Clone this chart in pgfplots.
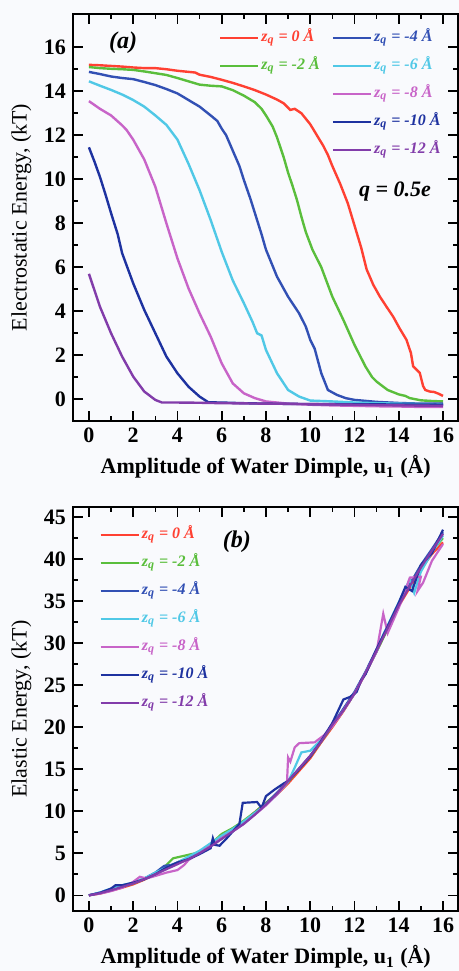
\documentclass[border=0pt]{standalone}
\usepackage{pgfplots}
\pgfplotsset{compat=1.18}
\usepackage{fontspec}
\setmainfont{Liberation Serif}
\definecolor{bgc}{RGB}{249,250,253}
\definecolor{zred}{RGB}{255,64,50}
\definecolor{zgreen}{RGB}{90,190,60}
\definecolor{zblue}{RGB}{50,80,180}
\definecolor{zcyan}{RGB}{80,200,230}
\definecolor{zpink}{RGB}{200,100,200}
\definecolor{zdblue}{RGB}{30,50,160}
\definecolor{zpurple}{RGB}{130,60,170}
\newcommand{\zq}[2]{\textcolor{#1}{\textit{z}\textsubscript{\textit{q}} = #2 Å}}
\pgfplotsset{
  commonax/.style={
    scale only axis,
    width=192.75pt,
    xmin=-0.72, xmax=16.7,
    xtick={0,2,...,16}, minor x tick num=1,
    minor y tick num=1,
    tick align=inside,
    major tick length=5pt, minor tick length=2.5pt,
    every tick/.style={line width=0.8pt, black},
    axis line style={line width=1pt},
    tick label style={font=\fontsize{11}{13}\selectfont\bfseries},
    /pgf/number format/assume math mode=true,
    label style={font=\fontsize{11}{13}\selectfont},
    xlabel={\textbf{Amplitude of Water Dimple, u\textsubscript{1} (Å)}},
    legend cell align=left,
    legend style={draw=none, fill=none, font=\fontsize{8}{9}\selectfont\bfseries\itshape,
      nodes={inner sep=1pt, text height=6pt, text depth=2.5pt}, row sep=3.5pt},
    legend image code/.code={\draw[#1, line width=1.2pt] (0pt,0pt) -- (19pt,0pt);},
  }
}
\begin{document}
\begin{tikzpicture}
\path[use as bounding box, fill=bgc] (-36.5pt,7pt) rectangle (193pt,-478.5pt);
% ---------------- (a)
\begin{axis}[commonax,
  at={(0pt,0pt)}, anchor=north west,
  height=203.5pt,
  ymin=-0.99, ymax=17.51,
  ytick={0,2,...,16},
  ylabel={Electrostatic Energy, (kT)},
  ylabel style={at={(axis description cs:-0.134,0.5)}, anchor=center},
  xlabel style={at={(axis description cs:0.5,-0.113)}, anchor=center},
  legend columns=2,
  legend style={at={(axis description cs:0.362,0.978)}, anchor=north west,
    /tikz/every even column/.append style={column sep=5pt}},
]
\addplot[zred, line width=1.2pt, forget plot] coordinates {(0,15.2) (0.5,15.18) (1,15.15) (1.5,15.12) (2,15.08) (2.5,15.05) (3,15.05) (3.5,15.0) (4,14.93) (4.5,14.88) (4.8,14.85) (5,14.75) (5.5,14.65) (6,14.52) (6.5,14.38) (7,14.22) (7.5,14.05) (8,13.85) (8.5,13.62) (8.8,13.45) (9.0,13.25) (9.1,13.15) (9.3,13.2) (9.6,13.0) (10,12.5) (10.3,12.0) (10.6,11.5) (10.8,11.1) (11,10.6) (11.35,9.8) (11.7,8.9) (12,7.9) (12.3,6.9) (12.55,5.9) (12.85,5.2) (13.15,4.66) (13.45,4.2) (13.75,3.75) (14.05,3.2) (14.35,2.7) (14.55,2.1) (14.65,1.5) (14.8,1.35) (14.95,1.2) (15.1,0.6) (15.2,0.42) (15.4,0.35) (15.6,0.33) (15.8,0.25) (16,0.15)};
\addplot[zgreen, line width=1.2pt, forget plot] coordinates {(0,15.1) (0.5,15.05) (1,15.02) (1.5,15.0) (2,14.97) (2.5,14.9) (3,14.82) (3.5,14.74) (4,14.6) (4.5,14.45) (5,14.3) (5.5,14.25) (6,14.22) (6.5,14.05) (7,13.8) (7.5,13.5) (7.8,13.2) (8,12.9) (8.3,12.4) (8.5,11.9) (8.8,11.0) (9,10.3) (9.2,9.7) (9.4,9.06) (9.6,8.3) (9.8,7.6) (10.1,6.8) (10.5,6.0) (11,4.66) (11.5,3.6) (12,2.47) (12.5,1.48) (12.8,1.0) (13,0.8) (13.5,0.42) (14,0.22) (14.3,0.15) (14.5,0.05) (15,-0.05) (15.5,-0.08) (16,-0.1)};
\addplot[zblue, line width=1.2pt, forget plot] coordinates {(0,14.88) (0.5,14.78) (1,14.67) (1.5,14.6) (2,14.55) (2.5,14.42) (3,14.28) (3.5,14.1) (4,13.9) (4.5,13.6) (5,13.3) (5.5,12.9) (5.8,12.65) (6,12.3) (6.2,12.0) (6.5,11.3) (6.8,10.6) (7,9.97) (7.3,9.1) (7.5,8.46) (7.8,7.5) (8,6.8) (8.5,5.57) (9,4.66) (9.5,3.9) (9.8,3.3) (10,2.7) (10.2,2.3) (10.5,1.18) (10.8,0.42) (11.2,0.2) (11.6,0.05) (12,-0.03) (13,-0.12) (14,-0.17) (15,-0.2) (16,-0.2)};
\addplot[zcyan, line width=1.2pt, forget plot] coordinates {(0,14.45) (0.5,14.25) (1,14.06) (1.5,13.85) (2,13.6) (2.5,13.3) (3,12.9) (3.5,12.47) (4,11.8) (4.5,10.7) (5,9.5) (5.5,8.15) (6,6.7) (6.5,5.4) (7,4.37) (7.4,3.5) (7.6,3.0) (7.8,2.9) (8,2.24) (8.5,1.18) (9,0.42) (9.5,0.12) (10,-0.06) (11,-0.1) (12,-0.15) (13,-0.18) (14,-0.2) (15,-0.22) (16,-0.25)};
\addplot[zpink, line width=1.2pt, forget plot] coordinates {(0,13.55) (0.5,13.2) (1,12.9) (1.5,12.45) (1.7,12.24) (2,11.8) (2.5,10.9) (3,9.66) (3.5,8.0) (4,6.4) (4.5,5.04) (5,3.9) (5.5,2.85) (6,1.63) (6.5,0.72) (7,0.27) (7.5,0.05) (8,-0.1) (9,-0.2) (10,-0.25) (11,-0.28) (12,-0.3) (13,-0.32) (14,-0.33) (15,-0.35) (16,-0.35)};
\addplot[zdblue, line width=1.2pt, forget plot] coordinates {(0,11.45) (0.25,10.8) (0.5,10.1) (0.75,9.3) (1,8.46) (1.3,7.5) (1.5,6.64) (2,5.27) (2.5,4.06) (3,3.0) (3.5,1.94) (4,1.18) (4.5,0.57) (5,0.12) (5.4,-0.14) (6,-0.15) (7,-0.18) (8,-0.2) (10,-0.22) (12,-0.23) (14,-0.24) (16,-0.25)};
\addplot[zpurple, line width=1.2pt, forget plot] coordinates {(0,5.7) (0.1,5.4) (0.5,4.2) (1,3.0) (1.5,1.94) (2,1.03) (2.5,0.35) (3,-0.03) (3.3,-0.15) (4,-0.15) (5,-0.16) (6,-0.18) (8,-0.2) (10,-0.22) (12,-0.25) (14,-0.28) (16,-0.3)};
\addlegendimage{zred}\addlegendentry{\zq{zred}{0}}
\addlegendimage{zblue}\addlegendentry{\zq{zblue}{-4}}
\addlegendimage{zgreen}\addlegendentry{\zq{zgreen}{-2}}
\addlegendimage{zcyan}\addlegendentry{\zq{zcyan}{-6}}
\addlegendimage{empty legend}\addlegendentry{}
\addlegendimage{zpink}\addlegendentry{\zq{zpink}{-8}}
\addlegendimage{empty legend}\addlegendentry{}
\addlegendimage{zdblue}\addlegendentry{\zq{zdblue}{-10}}
\addlegendimage{empty legend}\addlegendentry{}
\addlegendimage{zpurple}\addlegendentry{\zq{zpurple}{-12}}
\node[font=\fontsize{12}{14}\selectfont\bfseries\itshape] at (axis cs:1.54,16.2) {(a)};
\node[font=\fontsize{11}{13}\selectfont\bfseries\itshape] at (axis cs:13.83,9.45) {q = 0.5e};
\end{axis}
% ---------------- (b)
\begin{axis}[commonax,
  at={(0pt,-246.5pt)}, anchor=north west,
  height=202pt,
  ymin=-1.87, ymax=46.2,
  ytick={0,5,...,45},
  ylabel={Elastic Energy, (kT)},
  ylabel style={at={(axis description cs:-0.134,0.5)}, anchor=center},
  xlabel style={at={(axis description cs:0.5,-0.114)}, anchor=center},
  legend style={at={(axis description cs:0.052,0.968)}, anchor=north west},
]
\addplot[zred, line width=1.1pt] coordinates {(0,0) (0.5,0.2) (1,0.55) (1.5,0.9) (2,1.3) (2.5,1.85) (3,2.6) (3.5,3.2) (4,3.9) (4.5,4.5) (5,5.2) (5.5,6.0) (6,7.0) (6.5,7.9) (7,8.8) (7.5,9.9) (8,11.0) (8.5,12.0) (9,13.3) (9.5,14.8) (10,16.3) (10.5,18.2) (11,20.0) (11.5,21.9) (12,24.0) (12.5,26.4) (13,29.0) (13.5,31.8) (14,34.4) (14.5,36.6) (15,38.8) (15.5,40.6) (16,42.0)};
\addlegendentry{\zq{zred}{0}}
\addplot[zgreen, line width=1.1pt] coordinates {(0,0) (0.5,0.25) (1,0.6) (1.5,1.0) (2,1.4) (2.5,1.9) (3,2.6) (3.5,3.6) (3.8,4.4) (4.3,4.7) (4.8,5.0) (5.2,5.5) (5.5,6.1) (6,7.3) (6.5,8.0) (7,8.9) (7.5,9.9) (8,11.0) (8.5,12.1) (9,13.5) (9.5,15.0) (10,16.5) (10.5,18.3) (11,20.2) (11.5,22.0) (12,24.0) (12.5,26.5) (13,29.0) (13.5,31.7) (14,34.5) (14.5,37.0) (15,39.2) (15.5,41.0) (16,42.5)};
\addlegendentry{\zq{zgreen}{-2}}
\addplot[zblue, line width=1.1pt] coordinates {(0,0) (0.5,0.3) (1,0.7) (1.5,1.1) (2,1.5) (2.5,2.0) (3,2.7) (3.4,3.5) (3.7,3.6) (4,3.9) (4.5,4.5) (5,5.1) (5.5,6.0) (6,7.0) (6.5,7.8) (7,8.7) (7.5,9.8) (8,10.9) (8.5,12.2) (9,13.6) (9.5,15.1) (10,16.6) (10.5,18.4) (11,20.3) (11.5,22.2) (12,24.2) (12.5,26.6) (13,29.3) (13.5,32.0) (14,34.7) (14.5,37.0) (15,39.3) (15.5,41.2) (16,43.2)};
\addlegendentry{\zq{zblue}{-4}}
\addplot[zcyan, line width=1.1pt] coordinates {(0,0) (0.5,0.35) (1,0.8) (1.5,1.2) (2,1.5) (2.5,2.0) (3,2.7) (3.5,3.3) (4,3.9) (4.5,4.6) (5,5.3) (5.5,6.2) (6,7.1) (6.5,7.9) (7,8.8) (7.5,9.8) (8,10.8) (8.5,12.0) (9,13.5) (9.3,15.2) (9.6,17.0) (10,17.2) (10.5,18.5) (11,20.2) (11.5,22.0) (12,24.0) (12.5,26.5) (13,29.0) (13.3,31.0) (14.5,37.6) (14.7,36.0) (15,38.5) (15.5,40.8) (16,42.8)};
\addlegendentry{\zq{zcyan}{-6}}
\addplot[zpink, line width=1.1pt] coordinates {(0,0) (0.5,0.2) (1,0.5) (1.5,0.9) (2,1.6) (2.3,2.2) (2.6,2.0) (3,2.3) (3.5,2.7) (4,3.0) (4.3,3.6) (4.5,4.2) (5,5.0) (5.5,5.9) (6,6.8) (6.5,7.6) (7,8.5) (7.5,9.6) (8,10.7) (8.5,12.0) (8.95,13.4) (9.0,16.4) (9.1,15.9) (9.3,17.6) (9.5,18.1) (10.2,18.2) (10.6,19.0) (11,20.1) (11.5,22.0) (12,24.0) (12.5,26.4) (13,29.0) (13.3,33.5) (13.5,31.2) (14,34.2) (14.2,35.5) (14.5,37.8) (15.0,37.9) (14.85,36.2) (15.1,37.2) (15.5,39.8) (16,41.8)};
\addlegendentry{\zq{zpink}{-8}}
\addplot[zdblue, line width=1.1pt] coordinates {(0,0) (0.5,0.3) (1,0.8) (1.2,1.2) (1.5,1.2) (2,1.5) (2.5,1.9) (3,2.5) (3.5,3.3) (4,3.9) (4.5,4.3) (5,4.9) (5.5,5.6) (5.6,6.8) (5.7,6.0) (5.9,5.9) (6.2,6.7) (6.5,7.6) (6.8,8.5) (6.95,11.0) (7.6,11.1) (7.8,10.4) (8.0,11.8) (8.4,12.6) (8.8,13.3) (9,13.6) (9.5,15.0) (10,16.5) (10.5,18.4) (11,20.5) (11.5,23.3) (11.8,23.6) (12.1,24.2) (12.3,25.6) (12.5,26.3) (13,29.3) (13.5,32.0) (14,34.8) (14.3,36.7) (14.6,36.2) (15,39.3) (15.5,40.7) (16,43.5)};
\addlegendentry{\zq{zdblue}{-10}}
\addplot[zpurple, line width=1.1pt] coordinates {(0,0) (0.5,0.25) (1,0.6) (1.5,1.0) (2,1.4) (2.5,1.9) (3,2.5) (3.5,3.1) (4,3.7) (4.5,4.3) (5,5.0) (5.5,5.8) (6,6.7) (6.5,7.6) (7,8.5) (7.5,9.6) (8,10.8) (8.5,12.1) (9,13.6) (9.5,15.1) (10,16.6) (10.5,18.3) (11,20.3) (11.5,22.0) (12,24.0) (12.5,26.5) (13,29.1) (13.5,31.8) (14,34.5) (14.5,36.8) (15,39.0) (15.5,41.0) (16,43.0)};
\addlegendentry{\zq{zpurple}{-12}}
\node[font=\fontsize{12}{14}\selectfont\bfseries\itshape] at (axis cs:6.69,42.1) {(b)};
\end{axis}
\end{tikzpicture}
\end{document}
